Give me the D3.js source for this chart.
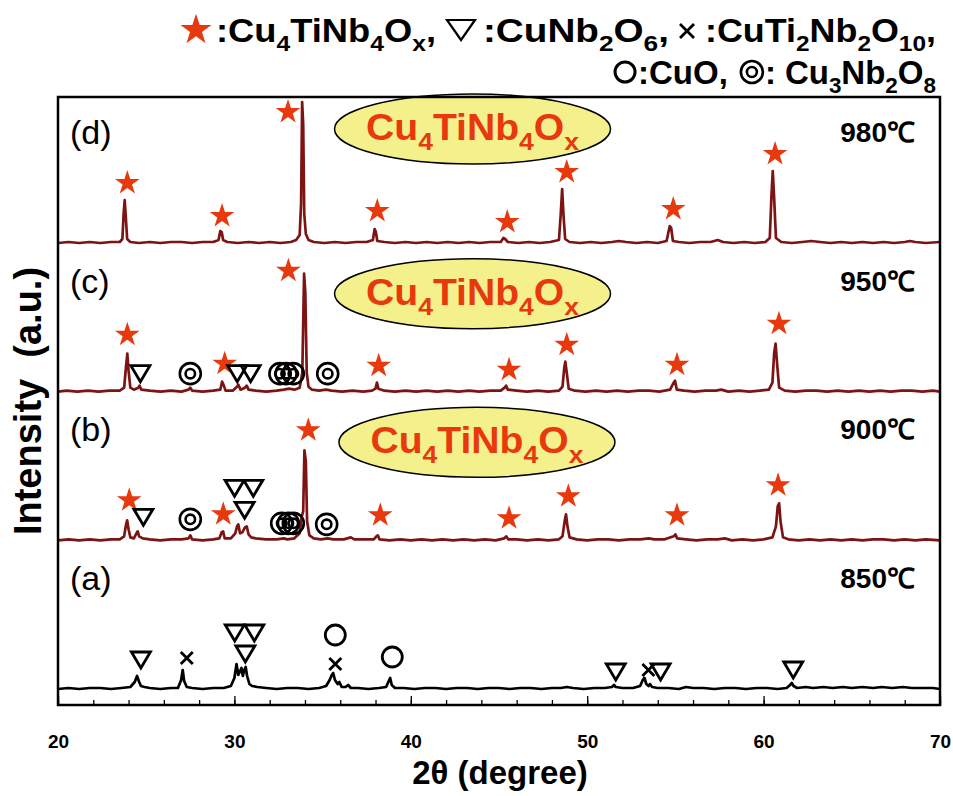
<!DOCTYPE html>
<html>
<head>
<meta charset="utf-8">
<script src="https://cdn.jsdelivr.net/npm/d3@7"></script>
<style>
  body { margin: 0; background: #fff; }
  text { font-family: "Liberation Sans", Arial, sans-serif; }
</style>
</head>
<body>
<div id="chart"></div>
<script>
// XRD patterns, [2theta, intensity a.u. above baseline]
const trace850 = [[20,1],[20.6,2],[21.2,1],[21.8,2],[22.4,2],[23.0,1],[23.6,2],[24.1,3],[24.35,8],[24.48,14],[24.58,9],[24.7,4],[24.9,3],[25.2,2],[25.8,1],[26.4,2],[26.8,2],[26.98,10],[27.07,20],[27.15,9],[27.3,3],[27.6,2],[28.2,1],[28.8,2],[29.4,2],[29.8,4],[30.0,12],[30.12,26],[30.22,15],[30.3,18],[30.4,22],[30.48,14],[30.56,20],[30.64,23],[30.72,14],[30.85,6],[31.0,4],[31.3,3],[31.8,2],[32.4,1],[33.0,2],[33.6,2],[34.2,1],[34.8,2],[35.2,4],[35.4,10],[35.52,15],[35.6,17],[35.7,10],[35.85,6],[35.95,8],[36.08,3],[36.3,3],[36.45,5],[36.6,2],[37.0,2],[37.6,1],[38.2,2],[38.6,3],[38.75,9],[38.83,12],[38.92,5],[39.1,2],[39.6,2],[40.2,1],[40.8,2],[41.4,2],[42.0,1],[42.6,2],[43.2,2],[43.8,1],[44.4,2],[45.0,2],[45.6,1],[46.2,2],[46.8,2],[47.4,1],[48.0,2],[48.5,2],[48.85,3],[49.2,2],[49.8,1],[50.4,2],[51.0,2],[51.4,3],[51.52,5],[51.62,3],[52.0,2],[52.6,2],[53.0,4],[53.15,10],[53.25,12],[53.35,6],[53.48,4],[53.56,6],[53.68,3],[54.0,2],[54.6,2],[55.2,1],[55.6,3],[56.0,2],[56.6,2],[57.2,1],[57.8,2],[58.4,2],[59.0,1],[59.6,2],[60.2,2],[60.8,1],[61.3,2],[61.5,5],[61.6,7],[61.7,4],[61.9,2],[62.4,3],[62.8,2],[63.4,3],[63.9,2],[64.5,3],[65.0,2],[65.6,3],[66.2,2],[66.7,3],[67.3,2],[67.9,3],[68.4,2],[69.0,2],[69.6,2],[70,1]];

const trace900 = [[20,1],[20.6,2],[21.2,1],[21.8,2],[22.4,1],[23.0,2],[23.5,2],[23.75,5],[23.85,16],[23.92,21],[24.0,12],[24.1,4],[24.3,3],[24.45,8],[24.52,10],[24.6,5],[24.8,3],[25.2,2],[25.8,1],[26.4,2],[27.0,2],[27.4,3],[27.5,6],[27.6,2],[28.2,1],[28.8,2],[29.15,3],[29.28,9],[29.36,10],[29.45,3],[29.8,3],[30.05,8],[30.15,15],[30.22,17],[30.32,8],[30.45,9],[30.6,14],[30.7,15],[30.8,7],[30.95,4],[31.2,3],[31.8,2],[32.4,2],[32.8,3],[33.0,2],[33.4,3],[33.7,8],[33.82,25],[33.9,30],[33.97,91],[34.05,80],[34.12,20],[34.25,6],[34.5,3],[34.9,2],[35.3,3],[35.6,2],[36.2,2],[36.6,4],[36.8,2],[37.4,2],[37.9,2],[38.05,5],[38.13,6],[38.22,2],[38.8,1],[39.4,2],[40.0,1],[40.6,2],[41.2,1],[41.8,2],[42.4,1],[43.0,2],[43.6,1],[44.2,2],[44.8,1],[45.3,3],[45.42,5],[45.52,2],[46.0,2],[46.6,1],[47.2,2],[47.8,1],[48.4,2],[48.6,5],[48.72,20],[48.8,27],[48.88,15],[49.0,4],[49.4,2],[50.0,1],[50.6,2],[51.2,2],[51.8,1],[52.4,2],[53.0,2],[53.5,3],[53.8,2],[54.4,2],[54.9,5],[55.0,7],[55.1,3],[55.6,2],[56.2,1],[56.8,2],[57.4,2],[57.8,3],[58.2,1],[58.8,2],[59.4,1],[60.0,2],[60.5,4],[60.7,15],[60.8,35],[60.88,38],[60.96,20],[61.1,4],[61.4,2],[62.0,1],[62.6,2],[63.2,1],[63.8,2],[64.4,1],[65.0,2],[65.6,1],[66.2,2],[66.8,2],[67.4,1],[68.0,2],[68.6,1],[69.2,2],[70,1]];

const trace950 = [[20,1],[20.5,2],[21.1,1],[21.7,2],[22.3,1],[22.9,2],[23.5,2],[23.75,5],[23.85,25],[23.93,39],[24.0,22],[24.1,5],[24.3,3],[24.55,5],[24.62,7],[24.72,3],[25.2,2],[25.8,1],[26.4,2],[27.0,1],[27.4,3],[27.5,5],[27.6,2],[28.2,1],[28.8,2],[29.2,3],[29.3,11],[29.38,8],[29.5,2],[29.9,2],[30.15,6],[30.22,8],[30.35,3],[30.6,5],[30.7,7],[30.8,3],[31.2,2],[31.8,1],[32.4,2],[32.8,3],[33.1,4],[33.4,3],[33.7,5],[33.85,20],[33.95,119],[34.02,100],[34.1,20],[34.2,6],[34.4,3],[34.8,2],[35.2,3],[35.5,2],[36.1,1],[36.7,2],[37.3,1],[37.8,2],[38.0,4],[38.08,10],[38.16,4],[38.5,2],[39.1,1],[39.7,2],[40.3,1],[40.9,2],[41.5,1],[42.1,2],[42.7,1],[43.3,2],[43.9,1],[44.5,2],[45.1,2],[45.32,5],[45.4,7],[45.5,3],[46.0,2],[46.6,1],[47.2,2],[47.8,1],[48.4,2],[48.6,6],[48.7,25],[48.76,31],[48.84,20],[48.95,4],[49.3,2],[49.9,1],[50.5,2],[51.1,1],[51.7,2],[52.3,1],[52.9,2],[53.5,2],[54.1,1],[54.7,3],[54.9,10],[54.98,12],[55.08,3],[55.5,2],[56.1,1],[56.7,2],[57.3,2],[57.6,3],[58.0,1],[58.6,2],[59.2,1],[59.8,2],[60.3,3],[60.5,10],[60.6,40],[60.68,49],[60.76,30],[60.88,5],[61.2,2],[61.8,1],[62.4,2],[63.0,2],[63.6,1],[64.2,2],[64.8,1],[65.4,2],[66.0,1],[66.6,2],[67.2,1],[67.8,2],[68.4,2],[69.0,1],[69.6,2],[70,1]];

const trace980 = [[20,1],[20.6,2],[21.2,1],[21.8,2],[22.4,1],[23.0,2],[23.5,2],[23.65,5],[23.72,30],[23.78,44],[23.84,28],[23.92,5],[24.1,2],[24.6,1],[25.2,2],[25.8,1],[26.4,2],[27.0,2],[27.6,1],[28.2,2],[28.8,2],[29.1,4],[29.2,13],[29.28,12],[29.36,4],[29.6,2],[30.2,1],[30.8,2],[31.4,1],[32.0,2],[32.6,1],[33.2,2],[33.5,4],[33.7,9],[33.78,40],[33.84,142],[33.9,120],[33.96,30],[34.05,10],[34.2,4],[34.5,2],[35.1,1],[35.7,2],[36.3,1],[36.9,2],[37.5,2],[37.85,4],[37.95,15],[38.02,12],[38.1,3],[38.5,2],[39.1,1],[39.7,2],[40.3,1],[40.9,2],[41.5,1],[42.1,2],[42.7,1],[43.3,2],[43.9,1],[44.5,2],[45.1,2],[45.25,6],[45.35,5],[45.5,2],[46.1,1],[46.7,2],[47.3,1],[47.9,2],[48.4,4],[48.5,30],[48.58,55],[48.66,28],[48.75,5],[49.0,2],[49.6,1],[50.2,2],[50.8,1],[51.4,2],[51.8,3],[52.2,2],[52.8,1],[53.4,2],[54.0,1],[54.5,3],[54.68,18],[54.76,16],[54.86,3],[55.2,2],[55.8,1],[56.4,2],[57.0,2],[57.4,4],[57.7,2],[58.3,1],[58.9,2],[59.5,1],[60.1,2],[60.35,6],[60.45,50],[60.52,73],[60.6,45],[60.7,6],[61.0,2],[61.6,1],[62.2,2],[62.7,3],[63.2,2],[63.8,1],[64.4,2],[65.0,1],[65.6,2],[66.2,1],[66.8,2],[67.4,1],[68.0,2],[68.3,3],[68.6,2],[69.2,1],[70,2]];

// phase markers, [2theta, level a.u.]
const star900 = [[24.04,41],[29.37,27],[34.19,111],[38.27,26],[45.57,23],[48.93,45],[55.09,26],[60.82,56]];
const star950 = [[23.93,58],[29.45,29],[33.06,122],[38.18,27],[45.57,23],[48.84,48],[55.09,28],[60.87,69]];
const star980 = [[23.93,61],[29.3,28],[33.04,132],[38.1,33],[45.47,22],[48.84,72],[54.88,35],[60.65,90]];

const tri850 = [[24.7,30],[30.02,57],[31.13,57],[30.62,36],[51.62,18],[54.16,18],[61.68,20]];
const tri900 = [[24.84,24],[30.01,53],[31.07,53],[30.58,31]];
const tri950 = [[24.67,19],[30.16,19],[30.92,19]];

const cross850 = [[27.3,32],[35.72,26],[53.47,20]];
const circle850 = [[35.72,55],[38.95,33]];

const dcircle900 = [[27.5,22],[32.68,18],[33.06,18],[33.34,18],[35.23,17]];
const dcircle950 = [[27.5,19],[32.58,19],[32.93,19],[33.34,19],[35.29,19]];

const panelKeys = ['(a)', '(b)', '(c)', '(d)'];
const temps = ['850℃', '900℃', '950℃', '980℃'];
const bubbleTheta = [null, 43.75, 43.5, 43.5];
const bubbleLevel = [null, 99, 99, 115];

const xMajor = [20, 30, 40, 50, 60, 70];

const RED = '#e8390e';
const TRACE = '#7d1414';

const W = 953, H = 796;
const svg = d3.select('#chart').append('svg').attr('width', W).attr('height', H);

const x = d3.scaleLinear().domain([20, 70]).range([58, 940]);
const baseY = d3.scaleLinear().domain([0, 3]).range([690, 244]);

// marker shapes
function drawStar(g, cx, cy, size) {
    g.append('path')
        .attr('d', d3.symbol(d3.symbolStar, size)())
        .attr('transform', `translate(${cx},${cy})`)
        .attr('fill', RED);
}
function drawTri(g, cx, cy, hw, hh, sw) {
    g.append('path')
        .attr('d', `M${-hw},${-hh}L${hw},${-hh}L0,${hh}Z`)
        .attr('transform', `translate(${cx},${cy})`)
        .attr('fill', 'none').attr('stroke', '#000').attr('stroke-width', sw)
        .attr('stroke-linejoin', 'miter');
}
function drawCross(g, cx, cy, r, sw) {
    g.append('path')
        .attr('d', `M${-r},${-r}L${r},${r}M${r},${-r}L${-r},${r}`)
        .attr('transform', `translate(${cx},${cy})`)
        .attr('stroke', '#000').attr('stroke-width', sw);
}
function drawCircle(g, cx, cy, r, sw) {
    g.append('circle').attr('cx', cx).attr('cy', cy).attr('r', r)
        .attr('fill', 'none').attr('stroke', '#000').attr('stroke-width', sw);
}
function drawDCircle(g, cx, cy, r, sw) {
    drawCircle(g, cx, cy, r, sw);
    drawCircle(g, cx, cy, r * 0.45, sw);
}

// text with subscripts, e.g. "Cu_4TiNb_4O_x"
function formula(t, str, size) {
    const parts = str.split(/(_(?:\d+|x))/).filter(s => s);
    let sub = false;
    parts.forEach(s => {
        if (s[0] === '_') {
            t.append('tspan').text(s.slice(1))
                .attr('font-size', size * 0.68)
                .attr('dy', sub ? 0 : size * 0.28);
            sub = true;
        } else {
            t.append('tspan').text(s).attr('dy', sub ? -size * 0.28 : 0);
            sub = false;
        }
    });
    return t;
}

const panelTable = [
    { key: panelKeys[0], temp: temps[0], trace: trace850, color: '#000', star: [], tri: tri850, cross: cross850, circle: circle850, dcircle: [] },
    { key: panelKeys[1], temp: temps[1], trace: trace900, color: TRACE, star: star900, tri: tri900, cross: [], circle: [], dcircle: dcircle900 },
    { key: panelKeys[2], temp: temps[2], trace: trace950, color: TRACE, star: star950, tri: tri950, cross: [], circle: [], dcircle: dcircle950 },
    { key: panelKeys[3], temp: temps[3], trace: trace980, color: TRACE, star: star980, tri: [], cross: [], circle: [], dcircle: [] },
];

const plot = svg.append('g');

panelTable.forEach((p, i) => {
    const y = d3.scaleLinear().domain([0, 150]).range([baseY(i), baseY(i) - 150]);
    const g = plot.append('g').attr('class', 'panel');

    if (bubbleTheta[i] !== null) {
        const cx = x(bubbleTheta[i]), cy = y(bubbleLevel[i]);
        g.append('ellipse').attr('cx', cx).attr('cy', cy).attr('rx', 138).attr('ry', 35)
            .attr('fill', '#f4f08c').attr('stroke', '#000').attr('stroke-width', 1.5);
        formula(g.append('text')
            .attr('x', cx).attr('y', cy + 11)
            .attr('text-anchor', 'middle')
            .attr('font-size', 36).attr('font-weight', 'bold')
            .attr('fill', RED)
            .attr('textLength', 213).attr('lengthAdjust', 'spacingAndGlyphs'),
            'Cu_4TiNb_4O_x', 36);
    }

    g.append('path')
        .datum(p.trace)
        .attr('d', d3.line().x(d => x(d[0])).y(d => y(d[1])))
        .attr('fill', 'none')
        .attr('stroke', p.color)
        .attr('stroke-width', 2.7)
        .attr('stroke-linejoin', 'round');

    p.star.forEach(d => drawStar(g, x(d[0]), y(d[1]), 190));
    p.tri.forEach(d => drawTri(g, x(d[0]), y(d[1]), 9.5, 8, 2.8));
    p.cross.forEach(d => drawCross(g, x(d[0]), y(d[1]), 6, 2.8));
    p.circle.forEach(d => drawCircle(g, x(d[0]), y(d[1]), 10, 2.8));
    p.dcircle.forEach(d => drawDCircle(g, x(d[0]), y(d[1]), 10.5, 2.6));

    g.append('text')
        .attr('x', 70).attr('y', baseY(i) - 100)
        .attr('font-size', 34)
        .text(p.key);

    g.append('text')
        .attr('x', 915).attr('y', baseY(i) - 102)
        .attr('text-anchor', 'end')
        .attr('font-size', 28).attr('font-weight', 'bold')
        .text(p.temp);
});

// frame
svg.append('rect')
    .attr('x', 58).attr('y', 97).attr('width', 882).attr('height', 608)
    .attr('fill', 'none').attr('stroke', '#000').attr('stroke-width', 2.5);

// x axis, inward ticks
const minorAxis = d3.axisBottom(x).tickValues(d3.range(20, 71, 2)).tickSize(-5).tickFormat('');
const majorAxis = d3.axisBottom(x).tickValues(xMajor).tickSize(-9).tickPadding(30).tickFormat(d3.format('d'));
const ga1 = svg.append('g').attr('transform', 'translate(0,705)').call(minorAxis);
const ga2 = svg.append('g').attr('transform', 'translate(0,705)').call(majorAxis);
[ga1, ga2].forEach(ga => {
    ga.select('.domain').remove();
    ga.selectAll('.tick line').attr('stroke', '#000').attr('stroke-width', 1.3);
});
ga2.selectAll('.tick text')
    .attr('font-family', '"Liberation Sans", Arial, sans-serif')
    .attr('font-size', 19).attr('font-weight', 'bold').attr('fill', '#000');

// axis titles
svg.append('text')
    .attr('x', 500).attr('y', 784)
    .attr('text-anchor', 'middle')
    .attr('font-size', 33).attr('font-weight', 'bold')
    .text('2θ (degree)');

svg.append('text')
    .attr('transform', 'translate(41,401) rotate(-90)')
    .attr('text-anchor', 'middle')
    .attr('font-size', 38).attr('font-weight', 'bold')
    .style('white-space', 'pre')
    .text('Intensity  (a.u.)');

// legend
const LEG = 33;
const lg = svg.append('g');
function legendText(xs, ys, str, anchor) {
    return formula(lg.append('text')
        .attr('x', xs).attr('y', ys)
        .attr('text-anchor', anchor || 'start')
        .attr('font-size', LEG).attr('font-weight', 'bold'), str, LEG);
}
// line 1
drawStar(lg, 196, 30, 300);
legendText(216, 42, ':Cu_4TiNb_4O_x,').attr('textLength', 220).attr('lengthAdjust', 'spacingAndGlyphs');
drawTri(lg, 461, 30, 14, 10, 2.2);
legendText(483, 42, ':CuNb_2O_6,').attr('textLength', 186).attr('lengthAdjust', 'spacingAndGlyphs');
drawCross(lg, 687, 31, 7, 2.8);
legendText(705, 42, ':CuTi_2Nb_2O_10,').attr('textLength', 231).attr('lengthAdjust', 'spacingAndGlyphs');
// line 2, natural widths, right aligned
const nb = legendText(936, 84, 'Cu_3Nb_2O_8', 'end');
const nbStart = 936 - nb.node().getComputedTextLength();
legendText(nbStart - 9, 84, ':', 'end');
drawDCircle(lg, nbStart - 33, 72, 11, 2.6);
const cuo = legendText(nbStart - 57, 84, ':CuO,', 'end');
const cuoStart = nbStart - 57 - cuo.node().getComputedTextLength();
drawCircle(lg, cuoStart - 13, 72, 10, 3);
</script>
</body>
</html>
